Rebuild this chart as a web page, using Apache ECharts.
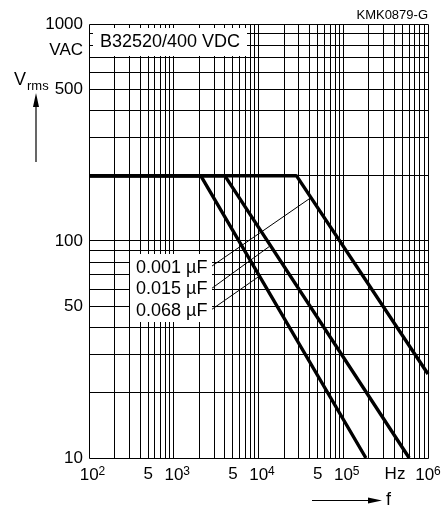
<!DOCTYPE html>
<html><head><meta charset="utf-8">
<script src="https://cdn.jsdelivr.net/npm/echarts@6/dist/echarts.min.js"></script>
<style>html,body{margin:0;padding:0;background:#fff}#c{width:446px;height:508px}</style>
</head><body><div id="c"></div>
<script>
const FONT = '"Liberation Sans", Arial, Helvetica, sans-serif';

// ---- data ----
const xGridValues = [100,200,300,400,500,600,700,800,900,
  1000,2000,3000,4000,5000,6000,7000,8000,9000,
  10000,20000,30000,40000,50000,60000,70000,80000,90000,
  100000,200000,300000,400000,500000,600000,700000,800000,900000,1000000];
const yGridValues = [10,20,30,40,50,60,70,80,90,100,200,300,400,500,600,700,800,900,1000];
const xMinorLabelValues = [500, 5000, 50000];
const yMinorLabelValues = [500, 50];

// Vrms vs f curves  [f (Hz), Vrms]
const curve0001 = [[100,200],[28000,200],[1000000,24.4]];
const curve0015 = [[100,200],[4000,200],[600000,10]];
const curve0068 = [[100,200],[2080,200],[185000,10]];

// leader lines: label -> curve
const leader0001 = [[2750,76.1],[40500,157.3]];
const leader0015 = [[2750,60.1],[13300,94.1]];
const leader0068 = [[2750,48.1],[10420,69.2]];

const curveLabels = ['0.001 µF', '0.015 µF', '0.068 µF'];

const chart = echarts.init(document.getElementById('c'), null, {renderer:'canvas'});

function crisp(v){ return Math.round(v - 0.5) + 0.5; }

const option = {
  animation: false,
  backgroundColor: '#fff',
  grid: {left: 89, right: 18, top: 24, bottom: 50, containLabel: false},
  xAxis: {
    type: 'log', logBase: 10, min: 100, max: 1000000,
    axisLine: {show: false}, axisTick: {show: false}, splitLine: {show: false},
    axisLabel: {
      margin: 8,
      formatter: function (v, i) {
        const e = Math.round(Math.log10(v));
        return (e < 6 ? '{pad|}' : '') + '{b|10}{sup|' + e + '}';
      },
      rich: {
        pad: {width: 7, fontSize: 17},
        b: {fontSize: 17, fontFamily: FONT, color: '#000', lineHeight: 18},
        sup: {fontSize: 12, fontFamily: FONT, color: '#000', verticalAlign: 'top', lineHeight: 12}
      }
    }
  },
  yAxis: {
    type: 'log', logBase: 10, min: 10, max: 1000,
    axisLine: {show: false}, axisTick: {show: false}, splitLine: {show: false},
    axisLabel: {
      margin: 6, fontSize: 17, fontFamily: FONT, color: '#000',
      formatter: function (v) { return String(Math.round(v)); }
    }
  },
  series: [
    {
      type: 'custom', z: 1, silent: true,
      data: xGridValues.map(v => [v, 10]),
      renderItem: function (params, api) {
        const v = api.value(0);
        const p0 = api.coord([v, 10]);
        const p1 = api.coord([v, 1000]);
        const x = crisp(p0[0]);
        return {type: 'line', shape: {x1: x, y1: crisp(p0[1]), x2: x, y2: crisp(p1[1])},
          style: {stroke: '#000', lineWidth: 1}};
      }
    },
    {
      type: 'custom', z: 1, silent: true,
      data: yGridValues.map(v => [100, v]),
      renderItem: function (params, api) {
        const v = api.value(1);
        const p0 = api.coord([100, v]);
        const p1 = api.coord([1000000, v]);
        const y = crisp(p0[1]);
        return {type: 'line', shape: {x1: crisp(p0[0]), y1: y, x2: crisp(p1[0]), y2: y},
          style: {stroke: '#000', lineWidth: 1}};
      }
    },
    {
      type: 'custom', z: 1, silent: true,
      data: xMinorLabelValues.map(v => [v, 10]),
      renderItem: function (params, api) {
        const p = api.coord([api.value(0), 10]);
        return {type: 'text', x: p[0], y: p[1] + 16,
          style: {text: '5', fill: '#000', fontSize: 17, fontFamily: FONT, align: 'center', verticalAlign: 'middle'}};
      }
    },
    {
      type: 'custom', z: 1, silent: true,
      data: yMinorLabelValues.map(v => [100, v]),
      renderItem: function (params, api) {
        const p = api.coord([100, api.value(1)]);
        return {type: 'text', x: p[0] - 6, y: p[1],
          style: {text: String(api.value(1)), fill: '#000', fontSize: 17, fontFamily: FONT, align: 'right', verticalAlign: 'middle'}};
      }
    },
    {type: 'line', z: 3, silent: true, symbol: 'none', data: curve0001, lineStyle: {color: '#000', width: 3.4}},
    {type: 'line', z: 3, silent: true, symbol: 'none', data: curve0015, lineStyle: {color: '#000', width: 3.4}},
    {type: 'line', z: 3, silent: true, symbol: 'none', data: curve0068, lineStyle: {color: '#000', width: 3.4}},
    {type: 'line', z: 3, silent: true, symbol: 'none', data: leader0001, lineStyle: {color: '#000', width: 1}},
    {type: 'line', z: 3, silent: true, symbol: 'none', data: leader0015, lineStyle: {color: '#000', width: 1}},
    {type: 'line', z: 3, silent: true, symbol: 'none', data: leader0068, lineStyle: {color: '#000', width: 1}}
  ],
  graphic: [
    {type: 'text', z: 100, x: 428, y: 15, style: {text: 'KMK0879-G', fill: '#000', fontSize: 13, fontFamily: FONT, align: 'right', verticalAlign: 'middle'}},
    {type: 'text', z: 100, x: 83, y: 50, style: {text: 'VAC', fill: '#000', fontSize: 17, fontFamily: FONT, align: 'right', verticalAlign: 'middle'}},
    {type: 'text', z: 100, x: 14, y: 80, style: {text: 'V', fill: '#000', fontSize: 18, fontFamily: FONT, align: 'left', verticalAlign: 'middle'}},
    {type: 'text', z: 100, x: 27, y: 86.5, style: {text: 'rms', fill: '#000', fontSize: 13, fontFamily: FONT, align: 'left', verticalAlign: 'middle'}},
    {type: 'line', z: 100, shape: {x1: 36, y1: 162, x2: 36, y2: 104}, style: {stroke: '#000', lineWidth: 1.2}},
    {type: 'polygon', z: 100, shape: {points: [[36, 93], [33, 107], [39, 107]]}, style: {fill: '#000'}},
    {type: 'line', z: 100, shape: {x1: 312, y1: 500.5, x2: 370, y2: 500.5}, style: {stroke: '#000', lineWidth: 1.2}},
    {type: 'polygon', z: 100, shape: {points: [[382, 500.5], [368, 497.5], [368, 503.5]]}, style: {fill: '#000'}},
    {type: 'text', z: 100, x: 386, y: 500, style: {text: 'f', fill: '#000', fontSize: 18, fontFamily: FONT, align: 'left', verticalAlign: 'middle'}},
    {type: 'text', z: 100, x: 395, y: 474, style: {text: 'Hz', fill: '#000', fontSize: 17, fontFamily: FONT, align: 'center', verticalAlign: 'middle'}},
    {type: 'rect', z: 100, shape: {x: 93, y: 28, width: 154, height: 28}, style: {fill: '#fff'}},
    {type: 'text', z: 101, x: 100, y: 42.5, style: {text: 'B32520/400 VDC', fill: '#000', fontSize: 18, fontFamily: FONT, align: 'left', verticalAlign: 'middle'}},
    {type: 'rect', z: 100, shape: {x: 130, y: 254, width: 82, height: 68}, style: {fill: '#fff'}},
    {type: 'text', z: 101, x: 136, y: 268.3, style: {text: curveLabels[0], fill: '#000', fontSize: 18, fontFamily: FONT, align: 'left', verticalAlign: 'middle'}},
    {type: 'text', z: 101, x: 136, y: 289.3, style: {text: curveLabels[1], fill: '#000', fontSize: 18, fontFamily: FONT, align: 'left', verticalAlign: 'middle'}},
    {type: 'text', z: 101, x: 136, y: 310.7, style: {text: curveLabels[2], fill: '#000', fontSize: 18, fontFamily: FONT, align: 'left', verticalAlign: 'middle'}}
  ]
};
chart.setOption(option);
</script>
</body></html>
